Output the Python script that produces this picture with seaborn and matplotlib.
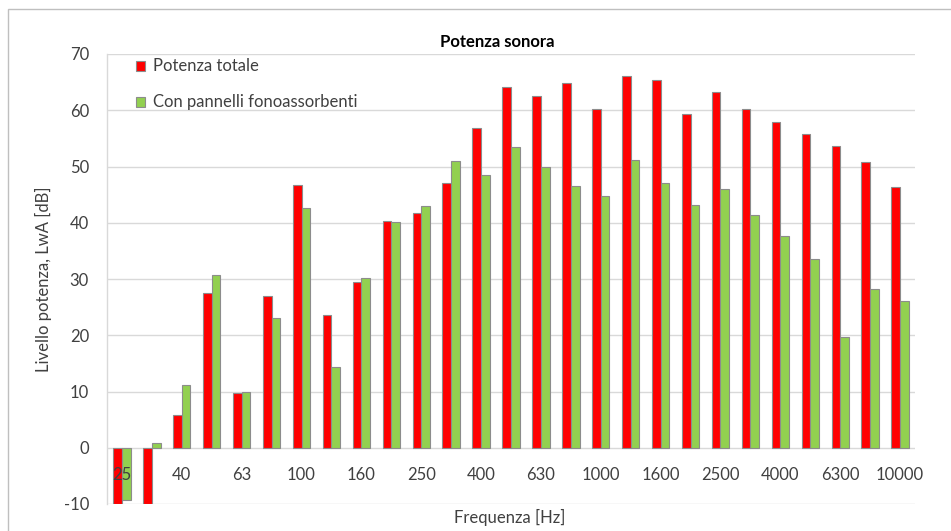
import matplotlib
matplotlib.use("Agg")
import matplotlib.pyplot as plt
import pandas as pd
import seaborn as sns
from matplotlib.patches import Rectangle

# Third-octave band centre frequencies [Hz]
frequencies = ["25", "31.5", "40", "50", "63", "80", "100", "125", "160", "200",
               "250", "315", "400", "500", "630", "800", "1000", "1250", "1600",
               "2000", "2500", "3150", "4000", "5000", "6300", "8000", "10000"]

# Sound power levels LwA [dB]
potenza_totale = [-10.0, -10.0, 5.9, 27.5, 9.8, 27.0, 46.8, 23.6, 29.5, 40.4,
                  41.8, 47.0, 56.8, 64.2, 62.5, 64.8, 60.2, 66.1, 65.4,
                  59.4, 63.3, 60.3, 57.9, 55.7, 53.7, 50.8, 46.4]
con_pannelli = [-9.3, 0.8, 11.2, 30.7, 9.9, 23.0, 42.7, 14.4, 30.2, 40.1,
                43.0, 50.9, 48.5, 53.5, 50.0, 46.6, 44.7, 51.2, 47.1,
                43.1, 46.0, 41.3, 37.7, 33.6, 19.7, 28.3, 26.1]

series_names = ["Potenza totale", "Con pannelli fonoassorbenti"]
series_colors = ["#FF0000", "#92D050"]
tick_labels = frequencies[::2]
y_ticks = [-10, 0, 10, 20, 30, 40, 50, 60, 70]

df = pd.DataFrame({
    "Frequenza": frequencies * 2,
    "Livello": potenza_totale + con_pannelli,
    "Serie": [series_names[0]] * len(frequencies) + [series_names[1]] * len(frequencies),
})

sns.set_theme(style="white")
plt.rcParams["font.family"] = ["Lato", "DejaVu Sans"]
text_color = "#404040"
fs = 12

W, H = 951, 531
fig = plt.figure(figsize=(W / 100, H / 100), dpi=100)

# outer chart frame
fig.patches.append(Rectangle((8 / W, -0.1), 1.2, (H - 9) / H + 0.1, transform=fig.transFigure,
                             fill=False, edgecolor="#bfbfbf", linewidth=1.0))

ax = fig.add_axes([107 / W, 27 / H, 808 / W, 450 / H])
sns.barplot(data=df, x="Frequenza", y="Livello", hue="Serie", order=frequencies,
            hue_order=series_names, palette=series_colors, saturation=1, width=0.58,
            edgecolor="#8c8c8c", linewidth=0.8, ax=ax)

ax.set_xlim(-0.5, len(frequencies) - 0.5)
ax.set_ylim(-10, 70)
ax.set_yticks(y_ticks)
ax.set_yticklabels([str(v) for v in y_ticks])
ax.set_xticks(range(0, len(frequencies), 2))
ax.set_xticklabels(tick_labels)

ax.yaxis.grid(True, color="#d9d9d9", linewidth=1.0)
ax.xaxis.grid(False)
ax.set_axisbelow(True)
ax.xaxis.set_zorder(3)

# category labels sit along the zero line
ax.spines["bottom"].set_position(("data", 0))
ax.spines["bottom"].set_visible(False)
ax.spines["top"].set_visible(False)
ax.spines["right"].set_visible(False)
ax.spines["left"].set_color("#d9d9d9")
ax.spines["left"].set_linewidth(1.0)

ax.tick_params(axis="x", length=0, pad=14, labelsize=fs, labelcolor=text_color)
ax.tick_params(axis="y", length=0, pad=13, labelsize=fs, labelcolor=text_color)

ax.set_xlabel("")
ax.set_ylabel("Livello potenza, LwA [dB]", fontsize=fs, color=text_color, labelpad=8)
fig.text(510 / W, 1 - 517 / H, "Frequenza [Hz]", ha="center", va="center",
         fontsize=fs, color=text_color)
fig.text(497 / W, 1 - 42 / H, "Potenza sonora", ha="center", va="center",
         fontsize=12, fontweight="bold", color="black")

handles, labels = ax.get_legend_handles_labels()
ax.legend(handles, labels, loc="upper left", bbox_to_anchor=(0.028, 1.005),
          frameon=False, fontsize=fs, handlelength=0.55, handleheight=0.55,
          handletextpad=0.45, labelspacing=1.2, borderaxespad=0, labelcolor=text_color)

fig.savefig("out.png", dpi=100)
